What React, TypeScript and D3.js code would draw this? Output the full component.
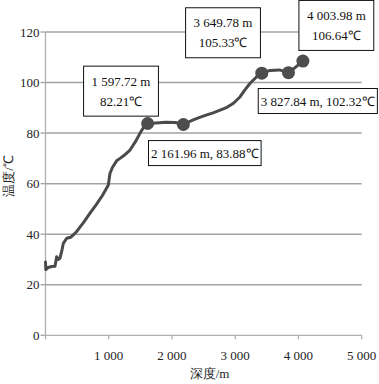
import React, { useMemo } from "react";
import * as d3 from "d3";

const depthSeries = [0, 5, 40, 100, 150, 177, 200, 230, 260, 282, 335, 400, 440, 500, 600, 704, 800, 900, 994, 1005, 1020, 1060, 1130, 1178, 1250, 1336, 1420, 1494, 1573, 1615, 1750, 1900, 2050, 2180, 2335, 2450, 2551, 2650, 2761, 2870, 2972, 3078, 3150, 3236, 3367, 3420, 3550, 3700, 3842, 3950, 4070];
const tempSeries = [29, 26, 26.8, 27.2, 27.3, 31.1, 30, 30.5, 33.7, 36.4, 38.4, 38.8, 39.7, 41.3, 44.6, 48.3, 51.6, 55.3, 59.5, 61.5, 64.1, 66.5, 69.2, 70, 71.3, 73.3, 76.5, 79.9, 83.2, 83.8, 84, 84.3, 84.2, 83.4, 85.2, 86.3, 87.2, 88, 89.1, 90.2, 91.8, 94.4, 97, 99.7, 103, 103.7, 104.8, 105, 103.9, 106, 108.5];

const markerDepths = [1615, 2180, 3420, 3842, 4070];
const markerTemps = [83.8, 83.4, 103.7, 103.9, 108.5];

const annotationLines = [
  ["1 597.72 m", "82.21℃"],
  ["3 649.78 m", "105.33℃"],
  ["4 003.98 m", "106.64℃"],
  ["3 827.84 m, 102.32℃"],
  ["2 161.96 m, 83.88℃"],
];
const annotationDepths = [1194, 2807, 4599, 4306, 2519];
const annotationTemps = [96.6, 119.7, 122.6, 92.7, 72.1];

const xTicks = [0, 1000, 2000, 3000, 4000, 5000];
const xTickLabels = ["", "1 000", "2 000", "3 000", "4 000", "5 000"];
const yTicks = [0, 20, 40, 60, 80, 100, 120];

const xTitle = "深度/m";
const yTitle = "温度/℃";

const W = 379;
const H = 384;
const FAM = "Liberation Serif";
const txt = { fontFamily: FAM, fontSize: "13px" } as React.CSSProperties;

function measure(s: string): number {
  const c = document.createElement("canvas").getContext("2d");
  if (!c) return s.length * 6.5;
  c.font = `13px "${FAM}"`;
  return c.measureText(s).width;
}

export default function App() {
  const x = d3.scaleLinear().domain([0, 5000]).range([45.5, 361.7]);
  const y = d3.scaleLinear().domain([0, 120]).range([335.3, 32]);
  const pts = depthSeries.map((d, i) => [d, tempSeries[i]] as [number, number]);
  const path = d3
    .line<[number, number]>()
    .x((d) => x(d[0]))
    .y((d) => y(d[1]))(pts) as string;

  const boxes = useMemo(
    () =>
      annotationLines.map((lines, i) => {
        const two = lines.length > 1;
        const maxW = Math.max(...lines.map(measure));
        return {
          lines,
          cx: x(annotationDepths[i]),
          cy: y(annotationTemps[i]),
          bw: maxW + (two ? 16 : 5),
          bh: two ? 50 : 25,
        };
      }),
    []
  );

  return (
    <svg
      width={W}
      height={H}
      style={{ position: "absolute", left: 0, top: 0, background: "#fff" }}
    >
      {yTicks
        .filter((t) => t > 0)
        .map((t) => (
          <line key={"g" + t} x1={x(0)} x2={x(5000)} y1={y(t)} y2={y(t)} stroke="#a3a3a3" strokeWidth={1.5} />
        ))}
      <line x1={x(0)} x2={x(0)} y1={y(120)} y2={y(0)} stroke="#b0b0b0" strokeWidth={1.3} />
      {yTicks.map((t) => (
        <g key={"y" + t}>
          <line x1={x(0) - 5} x2={x(0)} y1={y(t)} y2={y(t)} stroke="#a3a3a3" strokeWidth={1.3} />
          <text x={39.5} y={y(t)} dy="0.35em" textAnchor="end" fill="#222" style={txt}>
            {String(t)}
          </text>
        </g>
      ))}
      <line x1={x(0)} x2={x(5000)} y1={y(0)} y2={y(0)} stroke="#b0b0b0" strokeWidth={1.3} />
      {xTicks.map((t, i) => (
        <g key={"x" + t}>
          <line x1={x(t)} x2={x(t)} y1={y(0)} y2={y(0) + 4} stroke="#b0b0b0" strokeWidth={1.3} />
          <text x={x(t)} y={355.7} dy="0.35em" textAnchor="middle" fill="#222" style={txt}>
            {xTickLabels[i]}
          </text>
        </g>
      ))}
      <text x={209.5} y={373} dy="0.35em" textAnchor="middle" fill="#222" style={txt}>
        {xTitle}
      </text>
      <text transform="translate(8,176) rotate(-90)" dy="0.35em" textAnchor="middle" fill="#222" style={txt}>
        {yTitle}
      </text>

      <path d={path} fill="none" stroke="#4a4a4a" strokeWidth={3} strokeLinejoin="round" strokeLinecap="round" />
      {markerDepths.map((d, i) => (
        <circle key={"m" + i} cx={x(d)} cy={y(markerTemps[i])} r={6.5} fill="#4d4d4d" />
      ))}

      {boxes.map((b, i) => (
        <g key={"a" + i}>
          <rect x={b.cx - b.bw / 2} y={b.cy - b.bh / 2} width={b.bw} height={b.bh} fill="#fff" stroke="#111" strokeWidth={1} />
          {b.lines.map((s, j) => (
            <text
              key={j}
              x={b.cx}
              y={b.cy + (j - (b.lines.length - 1) / 2) * 20}
              dy="0.35em"
              textAnchor="middle"
              fill="#111"
              style={txt}
            >
              {s}
            </text>
          ))}
        </g>
      ))}
    </svg>
  );
}
